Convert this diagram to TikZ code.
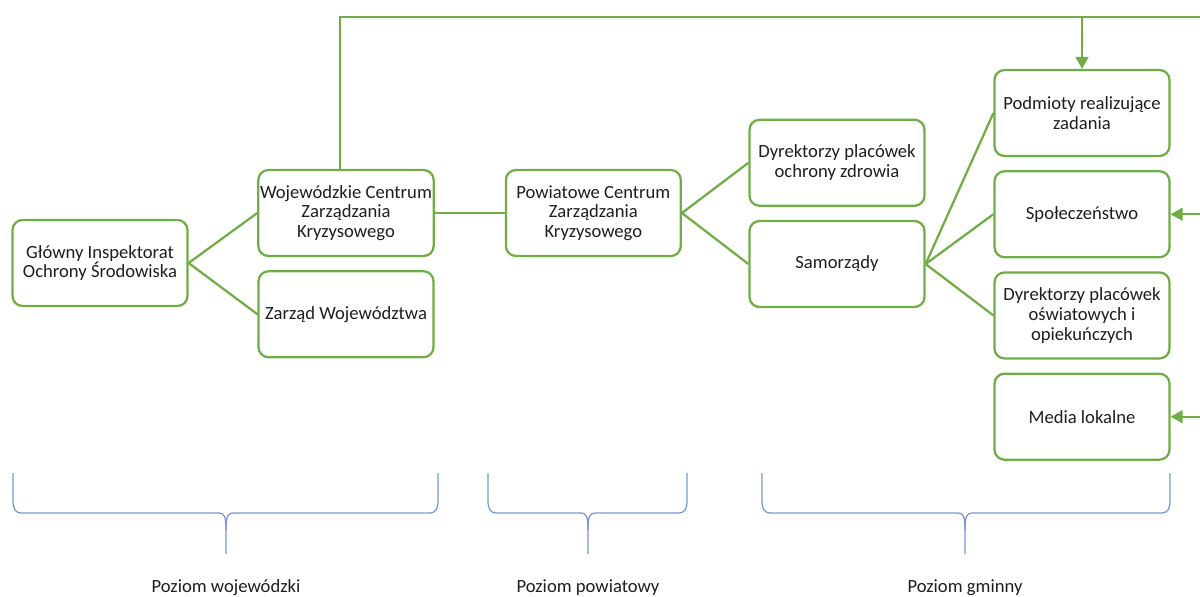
\documentclass[tikz,border=0pt]{standalone}
\usepackage{fontspec}
\setmainfont{Carlito}
\usetikzlibrary{arrows.meta,positioning}
\definecolor{leafgreen}{RGB}{112,173,71}
\definecolor{bracketblue}{RGB}{120,150,215}
\definecolor{inkgray}{RGB}{30,30,30}

\begin{document}
\begin{tikzpicture}[
    x=0.02cm, y=-0.02cm,
    node distance=2.6mm and 14mm,
    box/.style={draw=leafgreen, line width=0.045cm, rounded corners=2mm, minimum width=35mm, minimum height=17.2mm, inner xsep=1pt, align=center, text=inkgray, font=\fontsize{10.6}{11.2}\selectfont},
    link/.style={leafgreen, line width=0.045cm},
    arrow/.style={-{Triangle[length=2.4mm, width=2.6mm]}, leafgreen, line width=0.035cm},
    bracket/.style={bracketblue, line width=0.025cm},
    level/.style={text=inkgray, font=\fontsize{10.6}{11.2}\selectfont, anchor=base}
  ]
    \useasboundingbox (0,0) rectangle (1200,596);

    \node[box] (gios) at (100,263) {Główny Inspektorat\\Ochrony Środowiska};
    \node[box] (wczk) at (346,213) {Wojewódzkie Centrum\\Zarządzania\\Kryzysowego};
    \node[box, below=of wczk] (zarzad) {Zarząd Województwa};
    \node[box, right=of wczk] (pczk) {Powiatowe Centrum\\Zarządzania\\Kryzysowego};
    \node[box] (samorzady) at (837,264) {Samorządy};
    \node[box, above=of samorzady] (zdrowie) {Dyrektorzy placówek\\ochrony zdrowia};
    \node[box] (podmioty) at (1082,113) {Podmioty realizujące\\zadania};
    \node[box, below=of podmioty] (spoleczenstwo) {Społeczeństwo};
    \node[box, below=of spoleczenstwo] (oswiata) {Dyrektorzy placówek\\oświatowych i\\opiekuńczych};
    \node[box, below=of oswiata] (media) {Media lokalne};

    \draw[link] (gios.east) -- (wczk.west);
    \draw[link] (gios.east) -- (zarzad.west);
    \draw[link] (wczk) -- (pczk);
    \draw[link] (pczk.east) -- (zdrowie.west);
    \draw[link] (pczk.east) -- (samorzady.west);
    \draw[link] (samorzady.east) -- (podmioty.west);
    \draw[link] (samorzady.east) -- (spoleczenstwo.west);
    \draw[link] (samorzady.east) -- (oswiata.west);

    % feedback line along the top and the right edge
    \coordinate (edgetop) at (1200,17);
    \draw[link, line width=0.03cm] ([xshift=-0.12cm]wczk.north) |- (edgetop);
    \draw[arrow] (podmioty.north |- edgetop) -- (podmioty.north);
    \draw[arrow] (spoleczenstwo.east -| edgetop) -- (spoleczenstwo.east);
    \draw[arrow] (media.east -| edgetop) -- (media.east);

    % levels
    \foreach \xl/\xm/\xr/\name/\txt in {13/226/438/lvwoj/Poziom wojewódzki, 488/588/687/lvpow/Poziom powiatowy, 762/965/1170/lvgmi/Poziom gminny} {
      \draw[bracket] (\xl,473) -- (\xl,500) .. controls (\xl,509) and (\xl+2,513) .. (\xl+9,513) -- (\xm-7,513) .. controls (\xm-2,513) and (\xm,516) .. (\xm,530) -- (\xm,554);
      \draw[bracket] (\xr,473) -- (\xr,500) .. controls (\xr,509) and (\xr-2,513) .. (\xr-9,513) -- (\xm+7,513) .. controls (\xm+2,513) and (\xm,516) .. (\xm,530);
      \node[level] (\name) at (\xm,592) {\txt};
    }
  \end{tikzpicture}
\end{document}
